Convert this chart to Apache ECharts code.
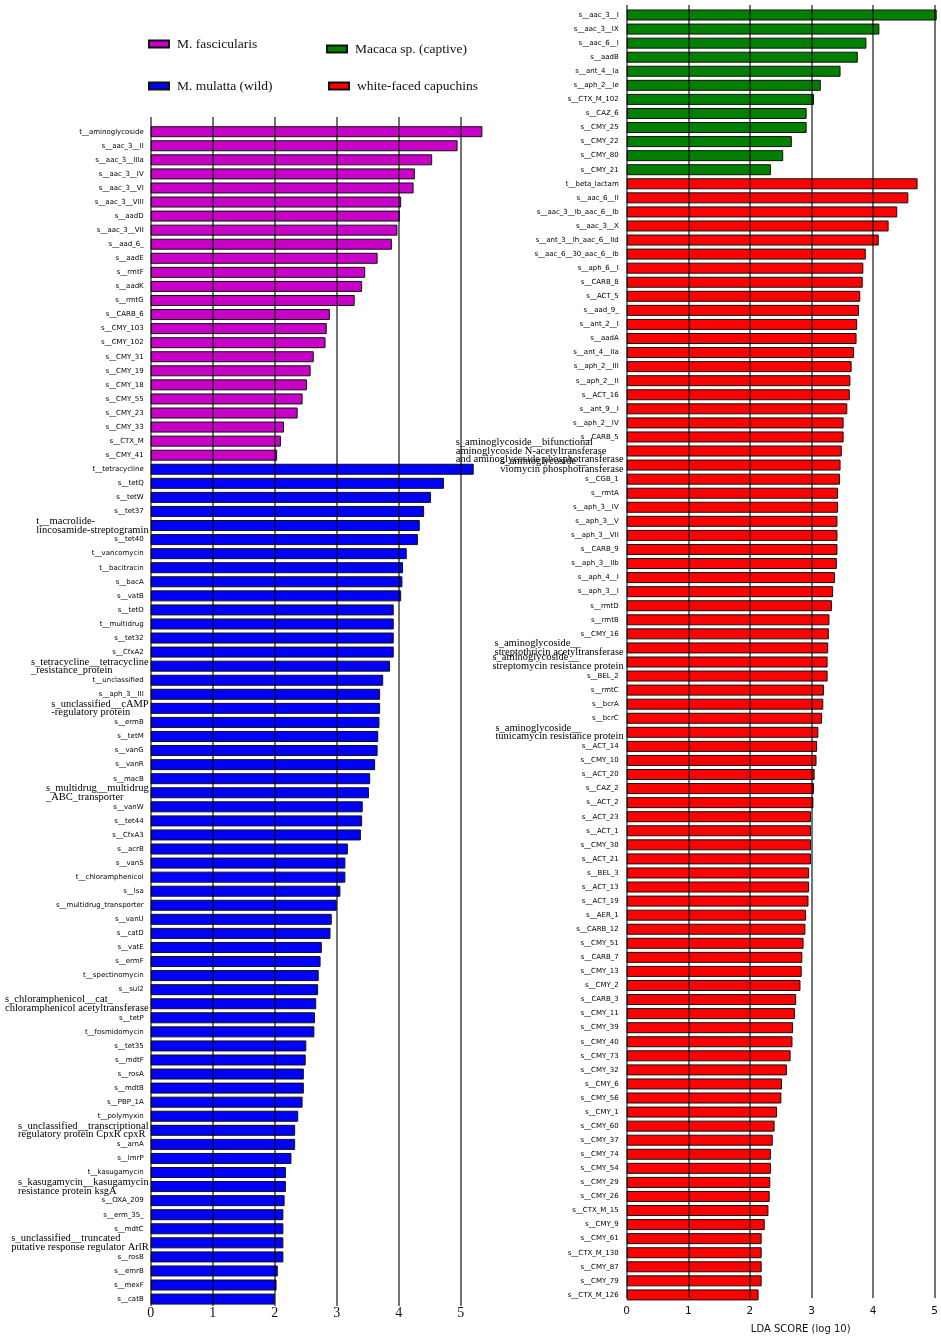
<!DOCTYPE html>
<html lang="en">
<head>
    <meta charset="UTF-8">
    <title>LDA score</title>
    <script src="https://cdn.jsdelivr.net/npm/echarts@6/dist/echarts.min.js"></script>
    <style>
        body { margin: 0; background: #fff; }
        #chart { width: 941px; height: 1339px; }
    </style>
</head>
<body>
    <div id="chart"></div>
    <script>
        // left panel groups
        var fascCats = ['t__aminoglycoside', 's__aac_3__II', 's__aac_3__IIIa', 's__aac_3__IV', 's__aac_3__VI', 's__aac_3__VIII', 's__aadD', 's__aac_3__VII', 's__aad_6_', 's__aadE', 's__rmtF', 's__aadK', 's__rmtG', 's__CARB_6', 's__CMY_103', 's__CMY_102', 's__CMY_31', 's__CMY_19', 's__CMY_18', 's__CMY_55', 's__CMY_23', 's__CMY_33', 's__CTX_M', 's__CMY_41']
        var fascVals = [5.35, 4.95, 4.54, 4.26, 4.24, 4.04, 4.02, 3.98, 3.89, 3.66, 3.46, 3.41, 3.29, 2.89, 2.84, 2.82, 2.63, 2.58, 2.52, 2.45, 2.37, 2.15, 2.10, 2.04]

        var mulattaCats = ['t__tetracycline', 's__tetQ', 's__tetW', 's__tet37', 't__macrolide-\nlincosamide-streptogramin', 's__tet40', 't__vancomycin', 't__bacitracin', 's__bacA', 's__vatB',
            's__tetO', 't__multidrug', 's__tet32', 's__CfxA2', 's_tetracycline__tetracycline\n_resistance_protein', 't__unclassified', 's__aph_3__III', 's_unclassified__cAMP\n-regulatory protein', 's__ermB', 's__tetM',
            's__vanG', 's__vanR', 's__macB', 's_multidrug__multidrug\n_ABC_transporter', 's__vanW', 's__tet44', 's__CfxA3', 's__acrB', 's__vanS', 't__chloramphenicol',
            's__lsa', 's__multidrug_transporter', 's__vanU', 's__catD', 's__vatE', 's__ermF', 't__spectinomycin', 's__sul2', 's_chloramphenicol__cat_\nchloramphenicol acetyltransferase', 's__tetP',
            't__fosmidomycin', 's__tet35', 's__mdtF', 's__rosA', 's__mdtB', 's__PBP_1A', 't__polymyxin', 's_unclassified__transcriptional\nregulatory protein CpxR cpxR', 's__arnA', 's__lmrP',
            't__kasugamycin', 's_kasugamycin__kasugamycin\nresistance protein ksgA', 's__OXA_209', 's__erm_35_', 's__mdtC', 's_unclassified__truncated\nputative response regulator ArlR', 's__rosB', 's__emrB', 's__mexF', 's__catB']
        var mulattaVals = [5.21, 4.73, 4.52, 4.41, 4.34, 4.31, 4.13, 4.07, 4.06, 4.04,
            3.92, 3.92, 3.92, 3.92, 3.86, 3.75, 3.70, 3.70, 3.69, 3.67,
            3.66, 3.62, 3.54, 3.52, 3.42, 3.41, 3.39, 3.18, 3.14, 3.14,
            3.06, 3.00, 2.92, 2.90, 2.76, 2.74, 2.71, 2.70, 2.67, 2.65,
            2.64, 2.51, 2.50, 2.47, 2.47, 2.45, 2.38, 2.33, 2.33, 2.27,
            2.18, 2.18, 2.16, 2.14, 2.14, 2.14, 2.14, 2.05, 2.03, 2.00]

        // right panel groups
        var captiveCats = ['s__aac_3__I', 's__aac_3__IX', 's__aac_6__I', 's__aadB', 's__ant_4__Ia', 's__aph_2__Ie', 's__CTX_M_102', 's__CAZ_6', 's__CMY_25', 's__CMY_22', 's__CMY_80', 's__CMY_21']
        var captiveVals = [5.03, 4.10, 3.89, 3.75, 3.47, 3.15, 3.04, 2.92, 2.92, 2.68, 2.54, 2.34]

        var capuchinCats = ['t__beta_lactam', 's__aac_6__II', 's__aac_3__Ib_aac_6__Ib', 's__aac_3__X', 's__ant_3__Ih_aac_6__IId', 's__aac_6__30_aac_6__Ib', 's__aph_6__I', 's__CARB_8', 's__ACT_5', 's__aad_9_',
            's__ant_2__I', 's__aadA', 's__ant_4__IIa', 's__aph_2__III', 's__aph_2__II', 's__ACT_16', 's__ant_9__I', 's__aph_2__IV', 's__CARB_5', 's_aminoglycoside__bifunctional\naminoglycoside N-acetyltransferase\nand aminoglycoside phosphotransferase',
            's_aminoglycoside__\nviomycin phosphotransferase', 's__CGB_1', 's__rmtA', 's__aph_3__IV', 's__aph_3__V', 's__aph_3__VII', 's__CARB_9', 's__aph_3__IIb', 's__aph_4__I', 's__aph_3__I',
            's__rmtD', 's__rmtB', 's__CMY_16', 's_aminoglycoside__\nstreptothricin acetyltransferase', 's_aminoglycoside__\nstreptomycin resistance protein', 's__BEL_2', 's__rmtC', 's__bcrA', 's__bcrC', 's_aminoglycoside__\ntunicamycin resistance protein',
            's__ACT_14', 's__CMY_10', 's__ACT_20', 's__CAZ_2', 's__ACT_2', 's__ACT_23', 's__ACT_1', 's__CMY_30', 's__ACT_21', 's__BEL_3',
            's__ACT_13', 's__ACT_19', 's__AER_1', 's__CARB_12', 's__CMY_51', 's__CARB_7', 's__CMY_13', 's__CMY_2', 's__CARB_3', 's__CMY_11',
            's__CMY_39', 's__CMY_40', 's__CMY_73', 's__CMY_32', 's__CMY_6', 's__CMY_56', 's__CMY_1', 's__CMY_60', 's__CMY_37', 's__CMY_74',
            's__CMY_54', 's__CMY_29', 's__CMY_26', 's__CTX_M_15', 's__CMY_9', 's__CMY_61', 's__CTX_M_130', 's__CMY_87', 's__CMY_79', 's__CTX_M_126']
        var capuchinVals = [4.72, 4.57, 4.39, 4.25, 4.09, 3.88, 3.84, 3.83, 3.79, 3.77,
            3.74, 3.73, 3.69, 3.65, 3.63, 3.62, 3.58, 3.52, 3.52, 3.49,
            3.47, 3.46, 3.43, 3.43, 3.42, 3.42, 3.42, 3.41, 3.38, 3.35,
            3.33, 3.29, 3.28, 3.27, 3.26, 3.26, 3.20, 3.19, 3.17, 3.11,
            3.09, 3.08, 3.05, 3.04, 3.03, 2.99, 2.99, 2.99, 2.99, 2.96,
            2.96, 2.95, 2.91, 2.90, 2.87, 2.85, 2.84, 2.82, 2.75, 2.73,
            2.70, 2.69, 2.66, 2.60, 2.52, 2.51, 2.44, 2.40, 2.37, 2.34,
            2.34, 2.33, 2.32, 2.30, 2.24, 2.19, 2.19, 2.19, 2.19, 2.14]

        function pad(n) {
            var a = []
            for (var i = 0; i < n; i++) a.push('-')
            return a
        }

        var leftCats = fascCats.concat(mulattaCats)
        var rightCats = captiveCats.concat(capuchinCats)

        // short names in small sans, long wrapped names in serif
        function catLabel(v) {
            if (v.indexOf('\n') >= 0) {
                return v.split('\n').map(function(l) { return '{s|' + l + '}' }).join('\n')
            }
            return '{a|' + v + '}'
        }
        var labelRich = {
            a: { fontFamily: 'DejaVu Sans', fontSize: 7, color: '#000', padding: [0, 5, 0, 0] },
            s: { fontFamily: 'Liberation Serif', fontSize: 10.5, lineHeight: 8.5, color: '#000', align: 'left' }
        }

        var px = 62 // pixels per LDA unit
        var rowH = 14.065

        var barStyle = function(c) {
            return { color: c, borderColor: '#111', borderWidth: 1 }
        }
        var gridLine = { show: true, lineStyle: { color: 'rgba(0,0,0,0.55)', width: 2 } }

        var mCharts = echarts.init(document.getElementById('chart'))
        var option = {
            animation: false,
            backgroundColor: '#fff',
            legend: [
                { data: ['M. fascicularis'], left: 148, top: 37 },
                { data: ['Macaca sp. (captive)'], left: 326, top: 42 },
                { data: ['M. mulatta (wild)'], left: 148, top: 79 },
                { data: ['white-faced capuchins'], left: 328, top: 79 }
            ].map(function(l) {
                l.icon = 'rect'
                l.itemWidth = 20
                l.itemHeight = 7
                l.padding = 0
                l.textStyle = { fontFamily: 'Liberation Serif', fontSize: 13.5, color: '#111', padding: [0, 0, 0, 3] }
                return l
            }),
            grid: [
                { left: 150.7, top: 131.7 - rowH / 2, width: px * 6, height: rowH * leftCats.length },
                { left: 150.7, top: 117, width: px * 5, height: 1306 - 117 },
                { left: 626.7, top: 15 - rowH / 2, width: px * 5.1, height: rowH * rightCats.length },
                { left: 626.7, top: 5, width: px * 5, height: 1304 - 5 }
            ],
            xAxis: [
                { gridIndex: 0, type: 'value', min: 0, max: 6, show: false },
                {
                    gridIndex: 1, type: 'value', min: 0, max: 5, interval: 1, z: 5,
                    axisLine: { show: false }, axisTick: { show: false },
                    splitLine: gridLine,
                    axisLabel: { fontFamily: 'Liberation Serif', fontSize: 14, color: '#111', margin: 0 }
                },
                { gridIndex: 2, type: 'value', min: 0, max: 5.1, show: false },
                {
                    gridIndex: 3, type: 'value', min: 0, max: 5, interval: 1, z: 5,
                    axisLine: { show: false }, axisTick: { show: false },
                    splitLine: gridLine,
                    axisLabel: { fontFamily: 'DejaVu Sans', fontSize: 10.5, color: '#111', margin: 8 },
                    name: 'LDA SCORE (log 10)', nameLocation: 'middle', nameGap: 26,
                    nameTextStyle: { fontFamily: 'DejaVu Sans', fontSize: 10, color: '#111', padding: [0, 0, 0, 40] }
                }
            ],
            yAxis: [
                {
                    gridIndex: 0, type: 'category', inverse: true, data: leftCats,
                    axisLine: { show: false }, axisTick: { show: false },
                    axisLabel: { interval: 0, margin: 2, formatter: catLabel, rich: labelRich }
                },
                { gridIndex: 1, type: 'value', show: false },
                {
                    gridIndex: 2, type: 'category', inverse: true, data: rightCats,
                    axisLine: { show: false }, axisTick: { show: false },
                    axisLabel: { interval: 0, margin: 3, formatter: catLabel, rich: labelRich }
                },
                { gridIndex: 3, type: 'value', show: false }
            ],
            series: [{
                    name: 'M. fascicularis', type: 'bar', xAxisIndex: 0, yAxisIndex: 0,
                    barWidth: 11, barGap: '-100%', itemStyle: barStyle('#C800C8'),
                    data: fascVals.concat(pad(mulattaVals.length))
                },
                {
                    name: 'M. mulatta (wild)', type: 'bar', xAxisIndex: 0, yAxisIndex: 0,
                    barWidth: 11, barGap: '-100%', itemStyle: barStyle('#0000FF'),
                    data: pad(fascVals.length).concat(mulattaVals)
                },
                {
                    name: 'Macaca sp. (captive)', type: 'bar', xAxisIndex: 2, yAxisIndex: 2,
                    barWidth: 11, barGap: '-100%', itemStyle: barStyle('#008000'),
                    data: captiveVals.concat(pad(capuchinVals.length))
                },
                {
                    name: 'white-faced capuchins', type: 'bar', xAxisIndex: 2, yAxisIndex: 2,
                    barWidth: 11, barGap: '-100%', itemStyle: barStyle('#FF0000'),
                    data: pad(captiveVals.length).concat(capuchinVals)
                }
            ]
        }
        mCharts.setOption(option)
    </script>
</body>
</html>
